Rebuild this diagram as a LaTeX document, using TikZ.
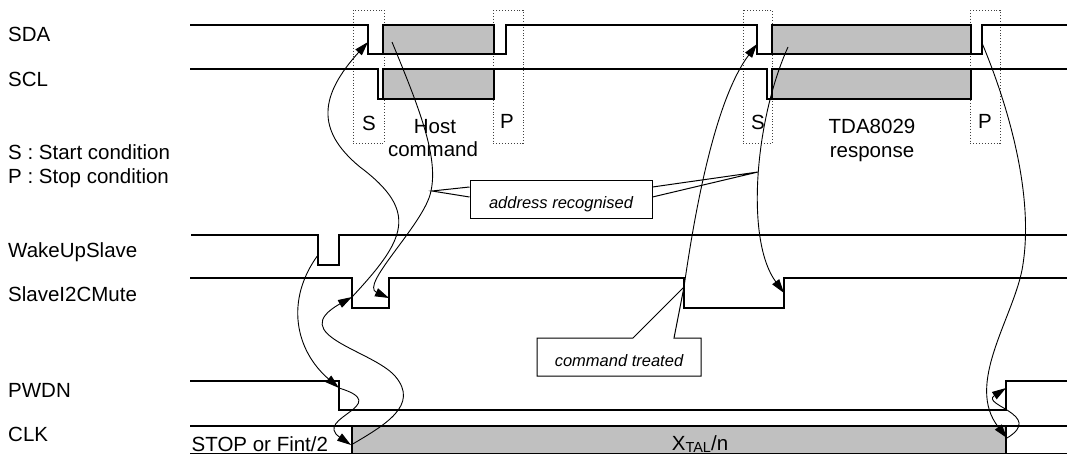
\documentclass[tikz,border=0pt]{standalone}
\usepackage{fontspec}
\setmainfont{Liberation Sans}
\usetikzlibrary{arrows.meta}
\definecolor{busgrey}{HTML}{C0C0C0}
\begin{document}
\begin{tikzpicture}[x=1pt,y=-1pt,
  sig/.style={line width=1.3pt},
  bus/.style={line width=1.3pt, fill=busgrey},
  dotbox/.style={draw=black!75, dotted, line width=0.9pt},
  conn/.style={line width=0.9pt, -{Triangle[length=14pt,width=8.5pt]}},
  lbl/.style={font=\fontsize{20.5}{24}\selectfont, inner sep=0pt},
  note/.style={font=\fontsize{16.5}{20}\selectfont\itshape, inner sep=0pt},
  callout/.style={draw, line width=1pt, fill=white}]
\useasboundingbox (0,0) rectangle (1067,455);

% signal names
\node[lbl, anchor=base west] (lSDA) at (8,41.7) {SDA};
\node[lbl, anchor=base west] (lSCL) at (8,86) {SCL};
\node[lbl, anchor=base west] (lS) at (8,159) {S : Start condition};
\node[lbl, anchor=base west] (lP) at (8,183) {P : Stop condition};
\node[lbl, anchor=base west] (lWake) at (8,257) {WakeUpSlave};
\node[lbl, anchor=base west] (lMute) at (8,301) {SlaveI2CMute};
\node[lbl, anchor=base west] (lPWDN) at (8,397) {PWDN};
\node[lbl, anchor=base west] (lCLK) at (8,441) {CLK};

% dotted S / P frames
\draw[dotbox] (353,10) rectangle (384,143);
\draw[dotbox] (493,10) rectangle (523,143);
\draw[dotbox] (743,10) rectangle (772,143);
\draw[dotbox] (970,10) rectangle (1000,143);

% SDA
\draw[sig] (190,25) -- (368,25) -- (368,54) -- (383,54);
\draw[bus] (383,25) rectangle (494,54);
\draw[sig] (494,54) -- (506,54) -- (506,25) -- (757,25) -- (757,54) -- (772,54);
\draw[bus] (772,25) rectangle (971,54);
\draw[sig] (971,54) -- (982,54) -- (982,25) -- (1067,25);
% SCL
\draw[sig] (190,69) -- (378,69) -- (378,99) -- (383,99);
\draw[bus] (383,69) rectangle (494,99);
\draw[sig] (494,69) -- (767,69) -- (767,99) -- (772,99);
\draw[bus] (772,69) rectangle (971,99);
\draw[sig] (971,69) -- (1067,69);
% WakeUpSlave
\draw[sig] (191,235) -- (318,235) -- (318,265) -- (339,265) -- (339,235) -- (1067,235);
% SlaveI2CMute
\draw[sig] (190,278) -- (352,278) -- (352,308) -- (389,308) -- (389,278) -- (684,278) -- (684,308) -- (784,308) -- (784,278) -- (1067,278);
% PWDN
\draw[sig] (190,381) -- (339,381) -- (339,410) -- (1006,410) -- (1006,381) -- (1067,381);
% CLK
\draw[bus] (352,426) rectangle (1006,453.8);
\draw[sig] (190,426) -- (1067,426);
\draw[sig] (190,453.8) -- (1067,453.8);

% texts in the chart
\node[lbl, anchor=base] (s1) at (369,130.5) {S};
\node[lbl, anchor=base] (p1) at (507,128.5) {P};
\node[lbl, anchor=base] (host) at (435,133.3) {Host};
\node[lbl, anchor=base] (cmd) at (433,156.7) {command};
\node[lbl, anchor=base] (s2) at (758,129) {S};
\node[lbl, anchor=base] (p2) at (985,128) {P};
\node[lbl, anchor=base] (tda) at (872,133) {TDA8029};
\node[lbl, anchor=base] (resp) at (872,157.5) {response};
\node[lbl, anchor=base west] (stop) at (191.5,451.2) {STOP or Fint/2};
\node[lbl, anchor=base] (xtal) at (700,450.5) {X\raisebox{-1.5pt}{\fontsize{14.5}{14.5}\selectfont TAL}/n};

% event points
\coordinate (sdaS1) at (368,42);
\coordinate (sdaHost) at (392,42);
\coordinate (sdaS2) at (757,44);
\coordinate (sdaResp) at (788,47);
\coordinate (sdaP2) at (982,43);
\coordinate (wakeFall) at (318,255);
\coordinate (muteFall1) at (352,297);
\coordinate (muteRise1) at (389,298);
\coordinate (muteFall2) at (684,287);
\coordinate (muteRise2) at (784,293);
\coordinate (pwdnFall) at (339,388);
\coordinate (pwdnRise) at (1006,388);
\coordinate (clkStart) at (351,445);
\coordinate (clkEnd) at (1007,438);
\coordinate (addrTipL) at (432,191);
\coordinate (addrTipR) at (758,172);

% causal arrows
\draw[conn] (muteFall1) .. controls (405,240) and (420,212) .. (360,167) .. controls (315,130) and (320,95) .. (sdaS1);
\draw[conn] (sdaHost) .. controls (420,110) and (440,160) .. (430,195) .. controls (420,228) and (360,285) .. (muteRise1);
\draw[conn] (clkStart) .. controls (385,425) and (420,405) .. (395,376) .. controls (372,350) and (285,335) .. (muteFall1);
\draw[conn] (wakeFall) .. controls (285,300) and (295,350) .. (pwdnFall);
\draw[conn] (pwdnFall) .. controls (395,405) and (312,418) .. (clkStart);
\draw[conn] (muteFall2) .. controls (695,210) and (715,100) .. (sdaS2);
\draw[conn] (sdaResp) .. controls (755,120) and (745,240) .. (muteRise2);
\draw[conn] (sdaP2) .. controls (1010,110) and (1035,200) .. (1022,270) .. controls (1012,320) and (965,385) .. (clkEnd);
\draw[conn] (clkEnd) .. controls (1045,415) and (980,405) .. (pwdnRise);

% callout: address recognised
\node[callout, minimum width=182pt, minimum height=37.5pt, inner sep=0pt] (addr) at (561,199.5) {};
\node[note, anchor=base] (addrtxt) at (561,208.3) {address recognised};
\draw[line width=1pt] (addr.west |- 0,187) -- (addrTipL) -- (addr.west |- 0,197);
\draw[line width=1pt] (addr.east |- 0,187) -- (addrTipR) -- (addr.east |- 0,197);

% callout: command treated
\draw[callout] (537,338) -- (633,338) -- (muteFall2) -- (674,338) -- (701,338) -- (701,376) -- (537,376) -- cycle;
\node[note, anchor=base] (cmdtreated) at (619,366.7) {command treated};
\end{tikzpicture}
\end{document}
